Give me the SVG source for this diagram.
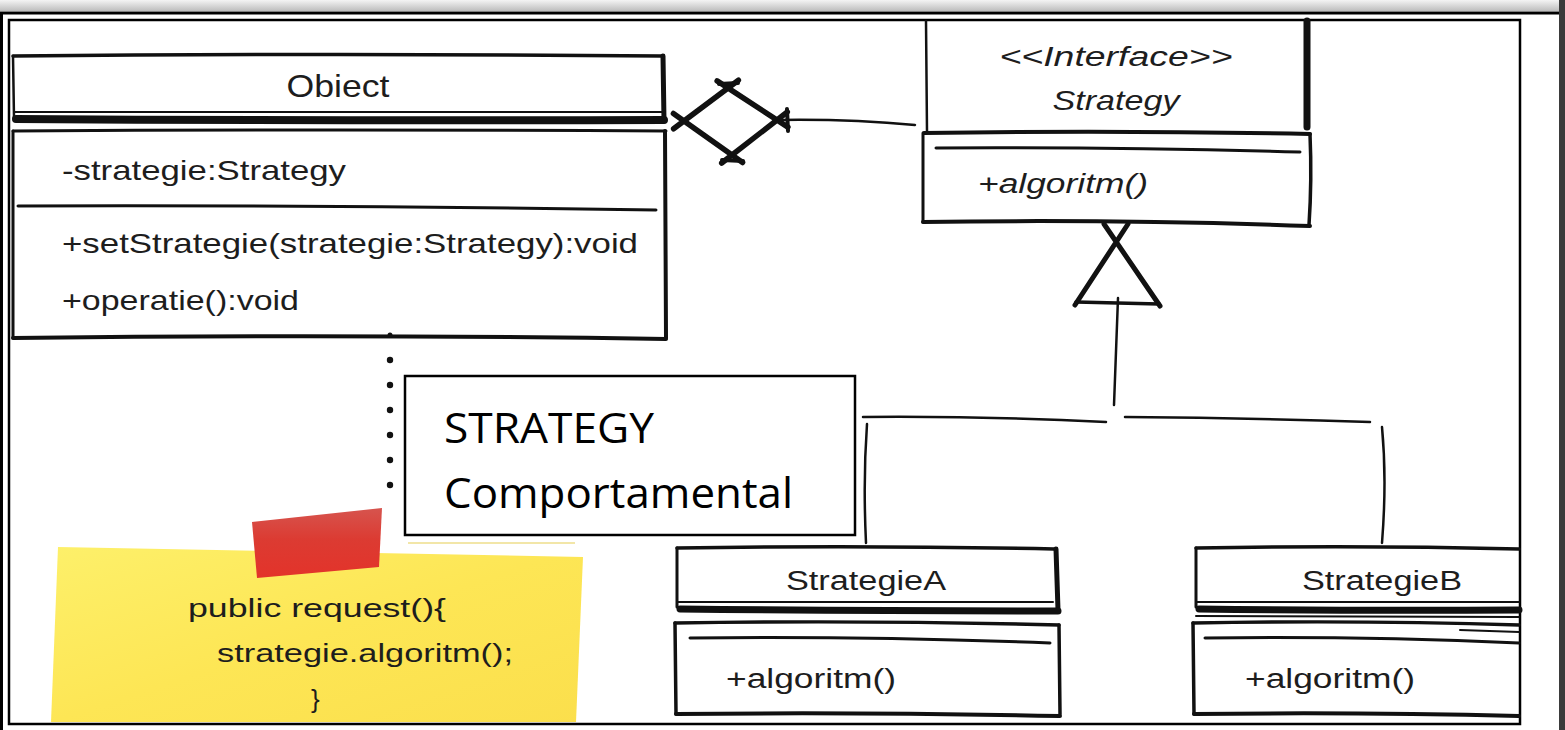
<svg xmlns="http://www.w3.org/2000/svg" width="1565" height="730" viewBox="0 0 1565 730">
<defs>
<linearGradient id="topbar" x1="0" y1="0" x2="0" y2="1"><stop offset="0" stop-color="#f4f4f4"/><stop offset="1" stop-color="#bdbdbd"/></linearGradient>
<linearGradient id="yellow" x1="0" y1="0" x2="1" y2="1"><stop offset="0" stop-color="#fdf06a"/><stop offset="0.5" stop-color="#fde655"/><stop offset="1" stop-color="#fbdf4c"/></linearGradient>
<linearGradient id="red" x1="0" y1="0" x2="0" y2="1"><stop offset="0" stop-color="#d6544e"/><stop offset="0.45" stop-color="#dc3b32"/><stop offset="1" stop-color="#e3332a"/></linearGradient>
<style>
.ln{fill:none;stroke:#111;stroke-linecap:round;stroke-linejoin:round}
.t{font-family:"Liberation Sans",Arial,sans-serif;fill:#1d1d1d}
.ti{font-family:"Liberation Sans",Arial,sans-serif;fill:#1d1d1d;font-style:italic}
.note{font-family:"Open Sans","Liberation Sans",sans-serif;fill:#000}
</style>
</defs>
<rect width="1565" height="730" fill="#fff"/>
<!-- window chrome -->
<rect x="0" y="0" width="1565" height="11" fill="url(#topbar)"/>
<line x1="0" y1="13" x2="1560" y2="13" stroke="#000" stroke-width="3"/>
<rect x="1559" y="0" width="6" height="730" fill="#3b3b3b"/>
<line x1="1.5" y1="13" x2="1.5" y2="730" stroke="#000" stroke-width="3"/>
<rect x="9" y="20" width="1511" height="704" fill="none" stroke="#000" stroke-width="2.5"/>

<!-- connectors -->
<g id="connectors">
  <!-- aggregation diamond -->
  <path class="ln" stroke-width="5.5" d="M673.6,128.8 L738.4,80.2 M717.1,80.9 L787.9,127.1 M787.3,112 L721.7,163 M742.6,162.5 L673.4,113.5"/>
  <path class="ln" stroke-width="4" d="M719,84 L738,83 M722,160 L743,161 M787,109 L788,131"/>
  <path class="ln" stroke-width="2.5" d="M779,120 Q850,119 915,125"/>
  <!-- generalization -->
  <path class="ln" stroke-width="5" d="M1128,224 L1075,305 M1104,224 L1160,306"/>
  <path class="ln" stroke-width="3.5" d="M1076,302 L1159,304"/>
  <path class="ln" stroke-width="2.5" d="M1118,298 Q1116,350 1114,405"/>
  <path class="ln" stroke-width="2.5" d="M863,417 Q990,416 1106,422 M1125,417 Q1250,418 1370,422"/>
  <path class="ln" stroke-width="2.5" d="M867,424 Q863,480 866,543 M1382,427 Q1387,480 1382,543"/>
  <!-- note anchor dots -->
  <g fill="#111">
    <circle cx="390" cy="335" r="2.5"/><circle cx="390" cy="360" r="3.2"/><circle cx="390" cy="385" r="3.2"/>
    <circle cx="390" cy="410" r="3.2"/><circle cx="390" cy="435" r="3.2"/><circle cx="390" cy="460" r="3.2"/>
    <circle cx="390" cy="485" r="3.2"/>
  </g>
</g>

<!-- Obiect class -->
<g id="obiect">
  <path class="ln" stroke-width="3.5" d="M13,56 Q340,53 662,56"/>
  <path class="ln" stroke-width="2.5" d="M13,56 L14,118"/>
  <path class="ln" stroke-width="5" d="M663,56 L664,121"/>
  <path class="ln" stroke-width="2" d="M14,112 L662,112"/>
  <path class="ln" stroke-width="8" d="M16,119 Q340,121 664,120"/>
  <path class="ln" stroke-width="3" d="M13,131 Q340,129 666,131"/>
  <path class="ln" stroke-width="3" d="M13,131 L13,338"/>
  <path class="ln" stroke-width="4" d="M665,131 L666,338"/>
  <path class="ln" stroke-width="4" d="M13,338 Q340,334 666,339"/>
  <path class="ln" stroke-width="3" d="M18,206 Q340,205 656,210"/>
  <text class="t" x="338" y="97" font-size="32" text-anchor="middle" textLength="103" lengthAdjust="spacingAndGlyphs">Obiect</text>
  <text class="t" x="62" y="180" font-size="28" textLength="284" lengthAdjust="spacingAndGlyphs">-strategie:Strategy</text>
  <text class="t" x="62" y="253" font-size="28" textLength="576" lengthAdjust="spacingAndGlyphs">+setStrategie(strategie:Strategy):void</text>
  <text class="t" x="62" y="310" font-size="28" textLength="237" lengthAdjust="spacingAndGlyphs">+operatie():void</text>
</g>

<!-- Strategy interface -->
<g id="strategy">
  <path class="ln" stroke-width="2.5" d="M926,21 L927,132"/>
  <path class="ln" stroke-width="7" d="M1307,21 L1307,127"/>
  <path class="ln" stroke-width="4" d="M924,133 Q1115,130 1310,134"/>
  <path class="ln" stroke-width="3" d="M923,133 L923,222"/>
  <path class="ln" stroke-width="3.5" d="M1310,134 Q1312,180 1309,225"/>
  <path class="ln" stroke-width="4" d="M923,222 Q1115,219 1310,226"/>
  <path class="ln" stroke-width="3" d="M936,148 Q1115,147 1300,152"/>
  <text class="ti" x="1116" y="66" font-size="27" text-anchor="middle" textLength="233" lengthAdjust="spacingAndGlyphs">&lt;&lt;Interface&gt;&gt;</text>
  <text class="ti" x="1116" y="110" font-size="28" text-anchor="middle" textLength="127" lengthAdjust="spacingAndGlyphs">Strategy</text>
  <text class="ti" x="978" y="193" font-size="27" textLength="170" lengthAdjust="spacingAndGlyphs">+algoritm()</text>
</g>

<!-- Note label -->
<g id="label">
  <rect x="405" y="376" width="450" height="159" fill="#fff" stroke="#000" stroke-width="2.5"/>
  <text class="note" x="444" y="443" font-size="42" textLength="210" lengthAdjust="spacingAndGlyphs">STRATEGY</text>
  <text class="note" x="444" y="508" font-size="42" textLength="349" lengthAdjust="spacingAndGlyphs">Comportamental</text>
</g>

<!-- Sticky note -->
<g id="sticky">
  <path d="M408,543 L575,543" stroke="#f2e6a8" stroke-width="2" fill="none"/>
  <polygon points="58,547 583,557 576,722 51,722" fill="url(#yellow)"/>
  <polygon points="252,522 382,508 379,567 257,578" fill="url(#red)"/>
  <text class="t" x="188" y="617" font-size="26" textLength="258" lengthAdjust="spacingAndGlyphs">public request(){</text>
  <text class="t" x="217" y="662" font-size="26" textLength="296" lengthAdjust="spacingAndGlyphs">strategie.algoritm();</text>
  <text class="t" x="311" y="708" font-size="26">}</text>
</g>

<!-- StrategieA -->
<g id="strategieA">
  <path class="ln" stroke-width="3.5" d="M677,548 Q865,545 1054,549"/>
  <path class="ln" stroke-width="3" d="M677,548 L677,607"/>
  <path class="ln" stroke-width="5" d="M1056,549 L1058,610"/>
  <path class="ln" stroke-width="2" d="M678,602 L1053,602"/>
  <path class="ln" stroke-width="7" d="M680,609 Q865,611 1058,611"/>
  <path class="ln" stroke-width="3.5" d="M675,623 Q865,620 1059,625"/>
  <path class="ln" stroke-width="3.5" d="M675,623 L676,714"/>
  <path class="ln" stroke-width="3.5" d="M1059,625 L1060,714"/>
  <path class="ln" stroke-width="4" d="M676,714 Q865,712 1060,716"/>
  <path class="ln" stroke-width="3" d="M690,638 Q865,636 1050,643"/>
  <text class="t" x="866" y="590" font-size="27" text-anchor="middle" textLength="160" lengthAdjust="spacingAndGlyphs">StrategieA</text>
  <text class="t" x="726" y="688" font-size="27" textLength="170" lengthAdjust="spacingAndGlyphs">+algoritm()</text>
</g>

<!-- StrategieB -->
<g id="strategieB">
  <path class="ln" stroke-width="3.5" d="M1196,548 Q1360,545 1519,549"/>
  <path class="ln" stroke-width="3" d="M1196,548 L1196,607"/>
  <path class="ln" stroke-width="2" d="M1197,602 L1519,602"/>
  <path class="ln" stroke-width="7" d="M1199,609 Q1360,611 1519,610"/>
  <path class="ln" stroke-width="2" d="M1196,616 L1519,617"/>
  <path class="ln" stroke-width="3.5" d="M1193,623 Q1360,620 1519,625"/>
  <path class="ln" stroke-width="3.5" d="M1193,623 L1194,714"/>
  <path class="ln" stroke-width="4" d="M1194,714 Q1360,712 1519,716"/>
  <path class="ln" stroke-width="3" d="M1205,638 Q1360,636 1519,643"/>
  <path class="ln" stroke-width="2" d="M1460,630 L1519,632"/>
  <text class="t" x="1382" y="590" font-size="27" text-anchor="middle" textLength="160" lengthAdjust="spacingAndGlyphs">StrategieB</text>
  <text class="t" x="1245" y="688" font-size="27" textLength="170" lengthAdjust="spacingAndGlyphs">+algoritm()</text>
</g>
</svg>
